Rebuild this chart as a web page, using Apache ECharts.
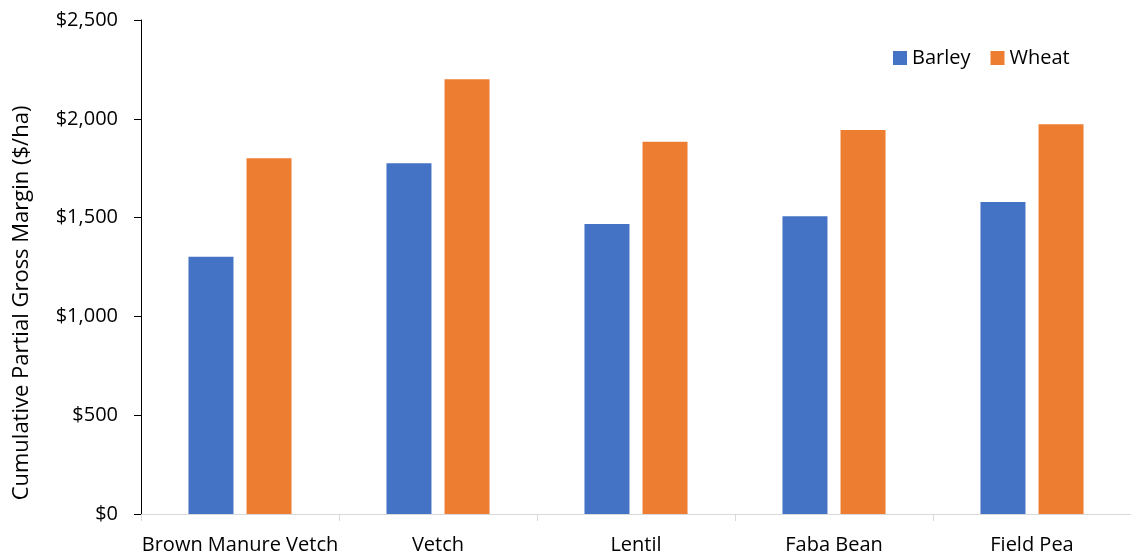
<!DOCTYPE html>
<html>
<head>
<meta charset="utf-8">
<script src="https://cdn.jsdelivr.net/npm/echarts@6/dist/echarts.min.js"></script>
<style>
  html, body { margin: 0; padding: 0; background: #fff; }
  #chart { width: 1131px; height: 556px; }
</style>
</head>
<body>
<div id="chart"></div>
<script>
// Cumulative partial gross margin by preceding break crop
const categories = ['Brown Manure Vetch', 'Vetch', 'Lentil', 'Faba Bean', 'Field Pea'];
const barley = [1302, 1775, 1468, 1507, 1579];
const wheat = [1800, 2200, 1884, 1943, 1972];
const yTicks = [0, 500, 1000, 1500, 2000, 2500];
const yTitle = 'Cumulative Partial Gross Margin ($/ha)';

const font = '"Open Sans", Lato, sans-serif';
const fmt = v => '$' + v.toLocaleString('en-US');

const chart = echarts.init(document.getElementById('chart'), null, { renderer: 'canvas' });
chart.setOption({
  animation: false,
  backgroundColor: '#ffffff',
  textStyle: { fontFamily: font },
  grid: { left: 141, right: -5, top: 20, bottom: 42, containLabel: false },
  legend: {
    left: 888,
    top: 43,
    itemWidth: 14,
    itemHeight: 14,
    itemGap: 20,
    icon: 'rect',
    textStyle: { fontSize: 20, color: '#000', fontFamily: font },
    data: ['Barley', 'Wheat']
  },
  graphic: [{
    type: 'text',
    x: 22,
    y: 303,
    rotation: Math.PI / 2,
    style: {
      text: yTitle,
      fontSize: 22,
      fontFamily: font,
      fill: '#000',
      align: 'center',
      verticalAlign: 'middle'
    }
  }],
  xAxis: {
    type: 'category',
    data: categories,
    boundaryGap: true,
    axisLine: { lineStyle: { color: '#d9d9d9', width: 1 } },
    axisTick: { show: true, interval: 0, alignWithLabel: false, length: 7, lineStyle: { color: '#d9d9d9' } },
    axisLabel: { interval: 0, fontSize: 20, color: '#000', margin: 21, fontFamily: font }
  },
  yAxis: {
    type: 'value',
    min: yTicks[0],
    max: yTicks[yTicks.length - 1],
    interval: 500,
    axisLine: { show: true, lineStyle: { color: '#000', width: 1 } },
    axisTick: { show: true, length: 7, lineStyle: { color: '#000' } },
    splitLine: { show: false },
    axisLabel: { fontSize: 20, color: '#000', margin: 23, formatter: fmt, fontFamily: font }
  },
  series: [
    {
      name: 'Barley',
      type: 'bar',
      data: barley,
      barWidth: 45,
      barGap: '29%',
      itemStyle: { color: '#4472c4' }
    },
    {
      name: 'Wheat',
      type: 'bar',
      data: wheat,
      barWidth: 45,
      itemStyle: { color: '#ed7d31' }
    }
  ]
});
</script>
</body>
</html>
